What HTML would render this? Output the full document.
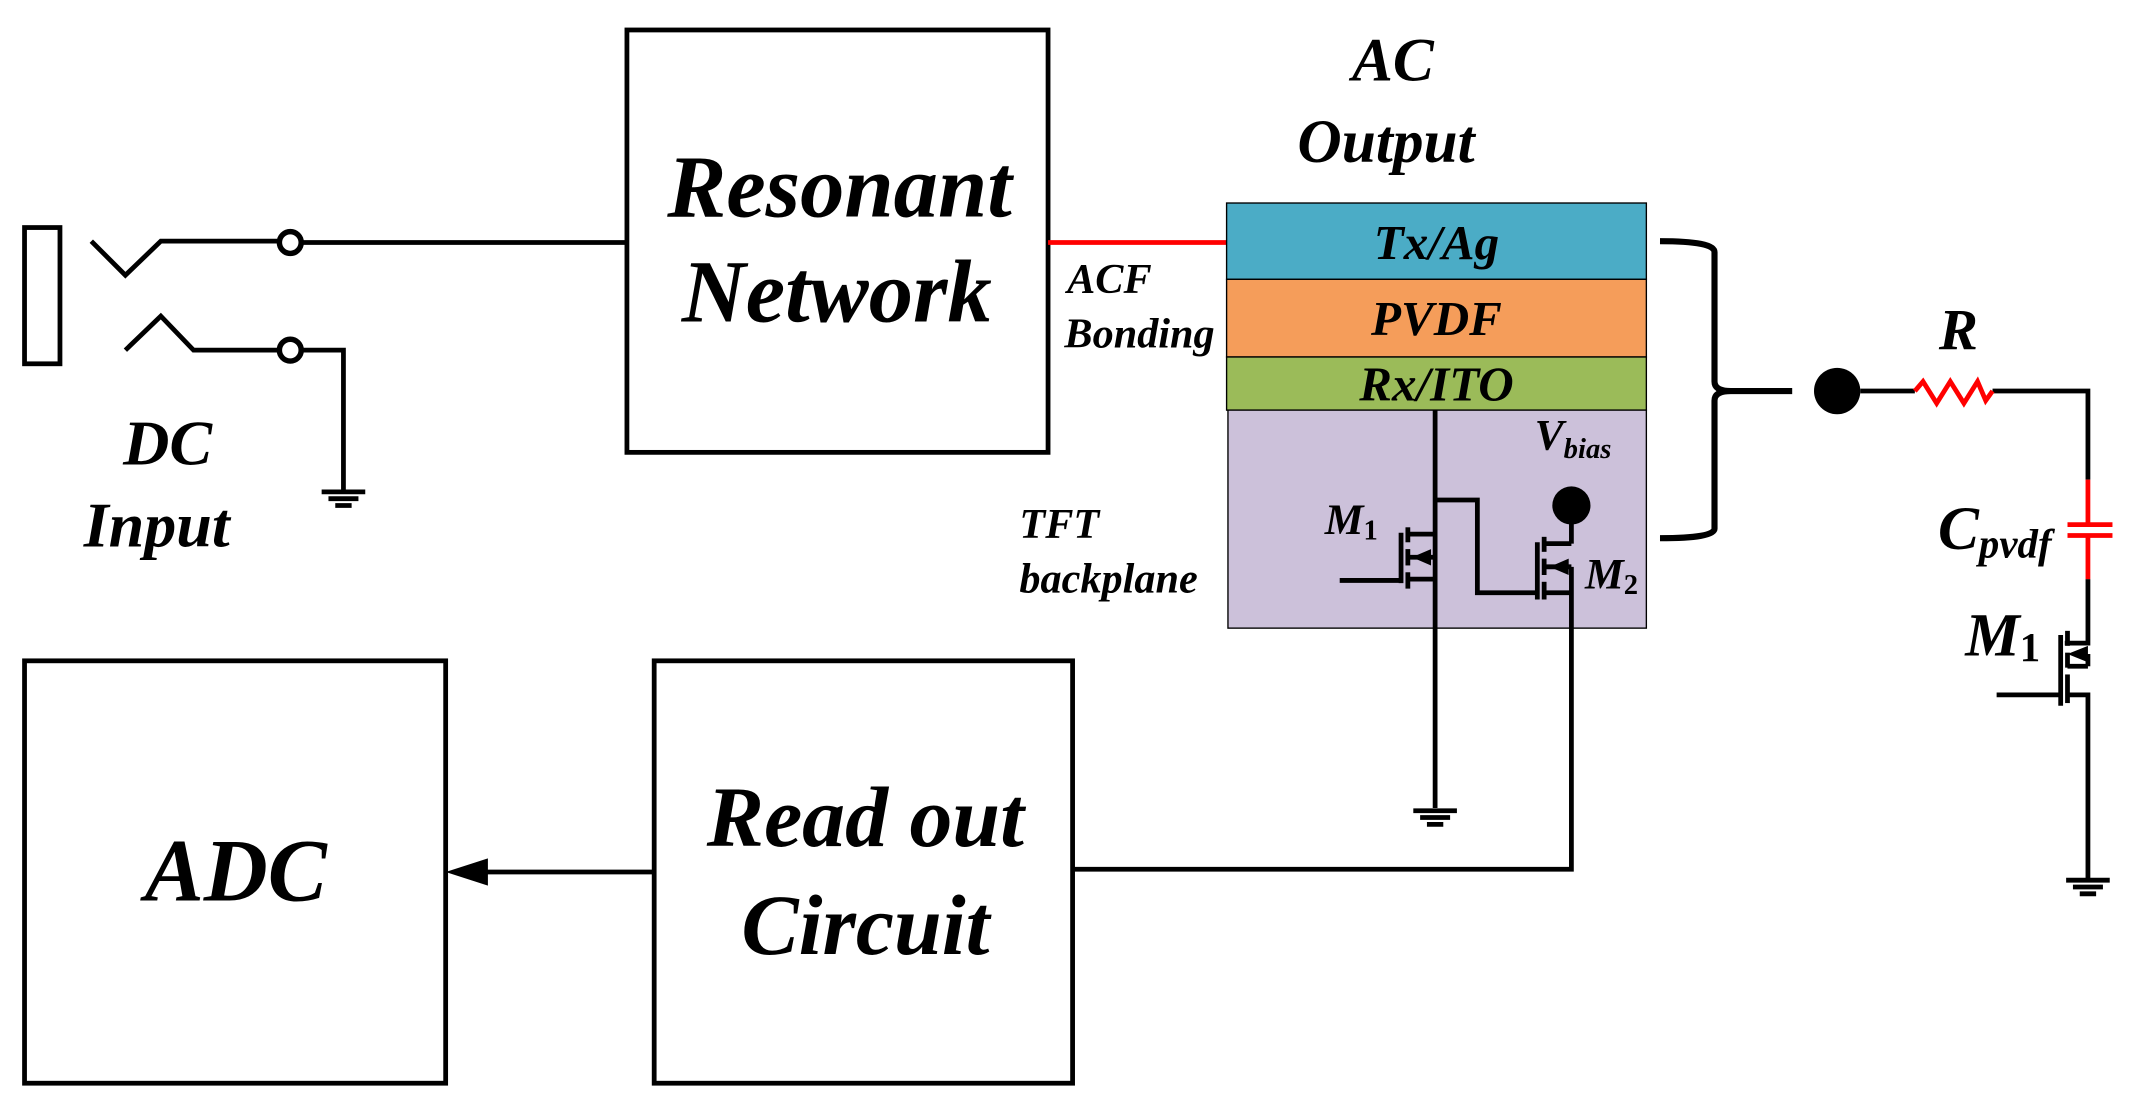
<!DOCTYPE html>
<html><head><meta charset="utf-8"><style>
html,body{margin:0;padding:0;background:#fff;}
svg{display:block;}
text{font-family:"Liberation Serif",serif;font-weight:bold;font-style:italic;fill:#000;}
</style></head><body>
<svg width="2137" height="1120" viewBox="0 0 1568 822" preserveAspectRatio="none" xmlns="http://www.w3.org/2000/svg">
<g fill="none" stroke="#000" stroke-width="3.5" stroke-linejoin="miter">
<rect x="18" y="167" width="26" height="100"/>
<polyline points="67,177 92,202 118,177 205,177"/>
<circle cx="213" cy="178" r="8" stroke-width="4"/>
<line x1="221" y1="178" x2="460" y2="178"/>
<polyline points="92,257 118,232 142,257 205,257"/>
<circle cx="213" cy="257" r="8" stroke-width="4"/>
<polyline points="221,257 252,257 252,360"/>
<line x1="236" y1="361" x2="268" y2="361"/>
<line x1="241" y1="366" x2="263" y2="366"/>
<line x1="246" y1="371" x2="258" y2="371"/>
<rect x="460" y="22" width="309" height="310"/>
<rect x="18" y="485" width="309" height="310"/>
<rect x="480" y="485" width="307" height="310"/>
<line x1="480" y1="640" x2="345" y2="640"/>
</g>
<polygon points="327,640 358,630 358,650" fill="#000"/>
<line x1="769" y1="178" x2="901" y2="178" stroke="#f00" stroke-width="3.5"/>
<rect x="900" y="149" width="308" height="56" fill="#4BACC6" stroke="#000" stroke-width="1"/>
<rect x="900" y="205" width="308" height="57" fill="#F59D5A" stroke="#000" stroke-width="1"/>
<rect x="900" y="262" width="308" height="39" fill="#9BBB59" stroke="#000" stroke-width="1"/>
<rect x="901" y="301" width="307" height="160" fill="#CCC1DA" stroke="#000" stroke-width="1"/>
<g fill="none" stroke="#000" stroke-width="3.5">
<line x1="1053" y1="301" x2="1053" y2="593"/>
<polyline points="1053,367 1084,367 1084,435 1128,435"/>
<line x1="1028" y1="391" x2="1028" y2="428"/>
<line x1="983" y1="426" x2="1028" y2="426"/>
<line x1="1033" y1="387" x2="1033" y2="398"/><line x1="1033" y1="403" x2="1033" y2="415"/><line x1="1033" y1="420" x2="1033" y2="432"/>
<line x1="1033" y1="392" x2="1053" y2="392"/>
<line x1="1033" y1="409" x2="1053" y2="409"/>
<line x1="1033" y1="425" x2="1053" y2="425"/>
<line x1="1128" y1="398" x2="1128" y2="440"/>
<line x1="1133" y1="394" x2="1133" y2="405"/><line x1="1133" y1="410" x2="1133" y2="422"/><line x1="1133" y1="427" x2="1133" y2="440"/>
<line x1="1133" y1="399" x2="1153" y2="399"/>
<line x1="1133" y1="416" x2="1153" y2="416"/>
<line x1="1133" y1="435" x2="1153" y2="435"/>
<line x1="1153" y1="371" x2="1153" y2="399"/>
<polyline points="1153,416 1153,638 787,638"/>
<line x1="1037" y1="595" x2="1069" y2="595"/>
<line x1="1042" y1="600" x2="1064" y2="600"/>
<line x1="1047" y1="605" x2="1059" y2="605"/>
</g>
<polygon points="1036,409 1050,403 1050,415" fill="#000"/>
<polygon points="1137,416 1151,410 1151,422" fill="#000"/>
<circle cx="1153" cy="371" r="14" fill="#000"/>
<path d="M1218,177 Q1258,177 1258,185 L1258,280 Q1258,287 1270,287 L1315,287 M1270,287 Q1258,287 1258,294 L1258,388 Q1258,395 1218,395" fill="none" stroke="#000" stroke-width="4.5"/>
<circle cx="1348" cy="287" r="17" fill="#000"/>
<g fill="none" stroke="#000" stroke-width="3.5">
<line x1="1365" y1="287" x2="1405" y2="287"/>
<polyline points="1462,287 1532,287 1532,352"/>
<polyline points="1532,425 1532,472 1515,472"/>
<line x1="1512" y1="466" x2="1512" y2="518"/>
<line x1="1465" y1="510" x2="1512" y2="510"/>
<line x1="1517" y1="463" x2="1517" y2="474"/><line x1="1517" y1="479" x2="1517" y2="490"/><line x1="1517" y1="495" x2="1517" y2="516"/>
<line x1="1517" y1="489" x2="1532" y2="489"/>
<polyline points="1517,510 1532,510 1532,645"/>
<line x1="1532" y1="480" x2="1532" y2="489"/>
<line x1="1516" y1="646" x2="1548" y2="646"/>
<line x1="1521" y1="651" x2="1543" y2="651"/>
<line x1="1526" y1="656" x2="1538" y2="656"/>
</g>
<polygon points="1517,480 1532,474 1532,486" fill="#000"/>
<polyline points="1405,287 1411,280 1421,296 1431,280 1441,296 1451,280 1457,294 1462,287" fill="none" stroke="#f00" stroke-width="3.5"/>
<g stroke="#f00" stroke-width="3.5">
<line x1="1532" y1="352" x2="1532" y2="385"/>
<line x1="1517" y1="385" x2="1550" y2="385"/>
<line x1="1517" y1="393" x2="1550" y2="393"/>
<line x1="1532" y1="393" x2="1532" y2="425"/>
</g>
<text x="123" y="341" font-size="47" text-anchor="middle">DC</text>
<text x="115" y="401" font-size="47" text-anchor="middle">Input</text>
<text x="616" y="159" font-size="65" text-anchor="middle">Resonant</text>
<text x="614" y="236" font-size="65" text-anchor="middle">Network</text>
<text x="173" y="661" font-size="65" text-anchor="middle">ADC</text>
<text x="635" y="621" font-size="63" text-anchor="middle">Read out</text>
<text x="635" y="700" font-size="63" text-anchor="middle">Circuit</text>
<text x="1022" y="59" font-size="45" text-anchor="middle">AC</text>
<text x="1017" y="119" font-size="45" text-anchor="middle">Output</text>
<text x="783" y="215" font-size="31">ACF</text>
<text x="781" y="255" font-size="31">Bonding</text>
<text x="748" y="395" font-size="31">TFT</text>
<text x="748" y="435" font-size="31">backplane</text>
<text x="1054" y="190" font-size="36" text-anchor="middle">Tx/Ag</text>
<text x="1054" y="246" font-size="36" text-anchor="middle">PVDF</text>
<text x="1054" y="294" font-size="36" text-anchor="middle">Rx/ITO</text>
<text x="1126" y="330" font-size="32">V<tspan font-size="21" dy="6">bias</tspan></text>
<text x="972" y="392" font-size="32">M<tspan font-size="21" dy="4" font-style="normal">1</tspan></text>
<text x="1163" y="432" font-size="32">M<tspan font-size="21" dy="4" font-style="normal">2</tspan></text>
<text x="1437" y="256" font-size="43" text-anchor="middle">R</text>
<text x="1422" y="403" font-size="45">C<tspan font-size="30" dy="6">pvdf</tspan></text>
<text x="1442" y="481" font-size="45">M<tspan font-size="30" dy="4" font-style="normal">1</tspan></text>
</svg>
</body></html>
